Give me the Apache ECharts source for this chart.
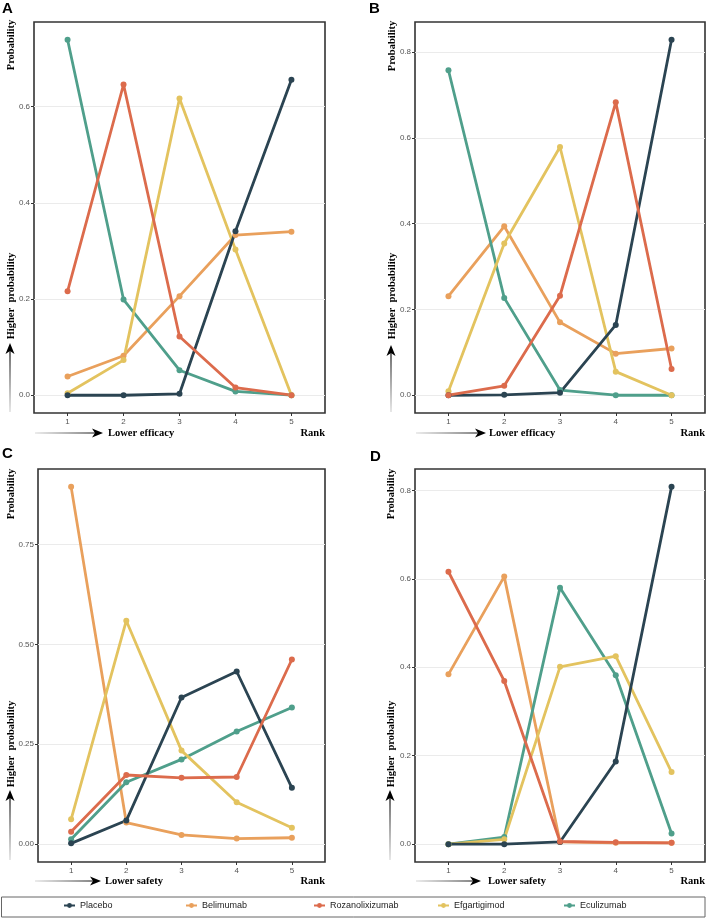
<!DOCTYPE html>
<html><head><meta charset="utf-8">
<script src="https://cdn.jsdelivr.net/npm/echarts@6/dist/echarts.min.js"></script>
<style>html,body{margin:0;padding:0;background:#fff}#c{width:708px;height:919px}</style>
</head><body><div id="c"></div><script>
// ---- data ----
const ranks = [1, 2, 3, 4, 5];
const treatments = ['Placebo', 'Belimumab', 'Rozanolixizumab', 'Efgartigimod', 'Eculizumab'];

// Panel A (efficacy)
const A_Placebo         = [0.000, 0.000, 0.003, 0.341, 0.656];
const A_Belimumab       = [0.039, 0.082, 0.206, 0.333, 0.340];
const A_Rozanolixizumab = [0.216, 0.646, 0.122, 0.016, 0.000];
const A_Efgartigimod    = [0.004, 0.073, 0.617, 0.303, 0.000];
const A_Eculizumab      = [0.739, 0.199, 0.052, 0.008, 0.000];
// Panel B (efficacy)
const B_Placebo         = [0.000, 0.001, 0.006, 0.164, 0.829];
const B_Belimumab       = [0.231, 0.394, 0.170, 0.097, 0.109];
const B_Rozanolixizumab = [0.000, 0.022, 0.232, 0.683, 0.061];
const B_Efgartigimod    = [0.009, 0.354, 0.579, 0.055, 0.000];
const B_Eculizumab      = [0.758, 0.227, 0.012, 0.000, 0.000];
// Panel C (safety)
const C_Placebo         = [0.002, 0.059, 0.367, 0.432, 0.141];
const C_Belimumab       = [0.894, 0.054, 0.023, 0.014, 0.016];
const C_Rozanolixizumab = [0.031, 0.173, 0.166, 0.168, 0.462];
const C_Efgartigimod    = [0.062, 0.559, 0.234, 0.105, 0.041];
const C_Eculizumab      = [0.012, 0.155, 0.212, 0.282, 0.342];
// Panel D (safety)
const D_Placebo         = [0.000, 0.000, 0.005, 0.187, 0.808];
const D_Belimumab       = [0.384, 0.605, 0.005, 0.003, 0.003];
const D_Rozanolixizumab = [0.616, 0.369, 0.006, 0.004, 0.003];
const D_Efgartigimod    = [0.000, 0.011, 0.401, 0.425, 0.163];
const D_Eculizumab      = [0.000, 0.016, 0.580, 0.382, 0.024];

// tick labels
const xTicks  = [1, 2, 3, 4, 5];
const yTicksA = [0, 0.2, 0.4, 0.6];
const yTicksB = [0, 0.2, 0.4, 0.6, 0.8];
const yTicksC = [0, 0.25, 0.5, 0.75];
const yTicksD = [0, 0.2, 0.4, 0.6, 0.8];

// ---- styling ----
const colors = {
  Placebo: '#2b4452', Belimumab: '#e9a05c', Rozanolixizumab: '#dc6b4c',
  Efgartigimod: '#e3c35f', Eculizumab: '#4f9f8b'
};
const drawOrder = ['Belimumab', 'Eculizumab', 'Efgartigimod', 'Placebo', 'Rozanolixizumab'];

const panels = [
  { key: 'A', data: {Placebo: A_Placebo, Belimumab: A_Belimumab, Rozanolixizumab: A_Rozanolixizumab, Efgartigimod: A_Efgartigimod, Eculizumab: A_Eculizumab},
    ticks: yTicksA, dec: 1, grid: {left: 34, top: 22, width: 291, height: 391} },
  { key: 'B', data: {Placebo: B_Placebo, Belimumab: B_Belimumab, Rozanolixizumab: B_Rozanolixizumab, Efgartigimod: B_Efgartigimod, Eculizumab: B_Eculizumab},
    ticks: yTicksB, dec: 1, grid: {left: 415, top: 22, width: 290, height: 391} },
  { key: 'C', data: {Placebo: C_Placebo, Belimumab: C_Belimumab, Rozanolixizumab: C_Rozanolixizumab, Efgartigimod: C_Efgartigimod, Eculizumab: C_Eculizumab},
    ticks: yTicksC, dec: 2, grid: {left: 38, top: 469, width: 287, height: 393} },
  { key: 'D', data: {Placebo: D_Placebo, Belimumab: D_Belimumab, Rozanolixizumab: D_Rozanolixizumab, Efgartigimod: D_Efgartigimod, Eculizumab: D_Eculizumab},
    ticks: yTicksD, dec: 1, grid: {left: 415, top: 469, width: 290, height: 393} }
];

const grids = [], xAxes = [], yAxes = [], series = [];
panels.forEach((p, i) => {
  grids.push(Object.assign({show: true, borderColor: '#333', borderWidth: 1.6, backgroundColor: '#fff'}, p.grid));
  let mx = 0;
  treatments.forEach(t => p.data[t].forEach(v => { if (v > mx) mx = v; }));
  xAxes.push({
    type: 'value', gridIndex: i, min: 0.4, max: 5.6,
    axisLine: {show: false, onZero: false}, splitLine: {show: false},
    axisTick: {show: true, customValues: xTicks, length: 3, lineStyle: {color: '#333', width: 1}},
    axisLabel: {customValues: xTicks, color: '#555', fontSize: 8, margin: 5, fontFamily: 'Liberation Sans, Arial'}
  });
  yAxes.push({
    type: 'value', gridIndex: i, min: -mx * 0.05, max: mx * 1.05,
    axisLine: {show: false, onZero: false},
    splitLine: {show: true, lineStyle: {color: '#ebebeb', width: 1}},
    axisTick: {show: true, customValues: p.ticks, length: 3, lineStyle: {color: '#333', width: 1}},
    axisLabel: {customValues: p.ticks, color: '#555', fontSize: 8, margin: 4, fontFamily: 'Liberation Sans, Arial',
      formatter: v => Number(v).toFixed(p.dec)}
  });
  drawOrder.forEach(t => {
    series.push({
      name: t, type: 'line', xAxisIndex: i, yAxisIndex: i,
      data: ranks.map((r, k) => [r, p.data[t][k]]),
      symbol: 'circle', symbolSize: 6, showSymbol: true,
      lineStyle: {width: 2.8, color: colors[t]}, itemStyle: {color: colors[t]},
      emphasis: {disabled: true}, silent: true
    });
  });
});

// ---- annotations ----
const serif = 'bold 10.5px "Liberation Serif", "Times New Roman", serif';
const graphic = [];
function txt(x, y, text, font, align, rot) {
  graphic.push({type: 'text', x: x, y: y, rotation: rot || 0, silent: true,
    style: {text: text, font: font, fill: '#000', align: align || 'left', verticalAlign: 'middle',
      textAlign: align || 'left', textVerticalAlign: 'middle'}});
}
function hArrow(x0, x1, y) {
  graphic.push({type: 'line', silent: true, shape: {x1: x0, y1: y, x2: x1 - 6, y2: y},
    style: {lineWidth: 1.2, stroke: new echarts.graphic.LinearGradient(0, 0, 1, 0, [{offset: 0, color: '#e0e0e0'}, {offset: 1, color: '#000'}])}});
  graphic.push({type: 'polygon', silent: true,
    shape: {points: [[x1 - 11, y - 4.5], [x1, y], [x1 - 11, y + 4.5], [x1 - 8, y]]}, style: {fill: '#000'}});
}
function vArrow(x, y0, y1) {
  graphic.push({type: 'line', silent: true, shape: {x1: x, y1: y0, x2: x, y2: y1 + 6},
    style: {lineWidth: 1.2, stroke: new echarts.graphic.LinearGradient(0, 1, 0, 0, [{offset: 0, color: '#e0e0e0'}, {offset: 1, color: '#000'}])}});
  graphic.push({type: 'polygon', silent: true,
    shape: {points: [[x - 4.5, y1 + 11], [x, y1], [x + 4.5, y1 + 11], [x, y1 + 8]]}, style: {fill: '#000'}});
}
const letterFont = 'bold 15px "Liberation Sans", Arial, sans-serif';
txt(2, 9, 'A', letterFont);
txt(369, 9, 'B', letterFont);
txt(2, 454, 'C', letterFont);
txt(370, 457, 'D', letterFont);

// rotated y titles
[[11, 45, 296, 412, 343], [392, 46, 296, 412, 345], [11, 494, 744, 860, 790], [391, 494, 744, 860, 790]].forEach(a => {
  txt(a[0], a[1], 'Probability', serif, 'center', Math.PI / 2);
  txt(a[0], a[2], 'Higher  probability', serif, 'center', Math.PI / 2);
  vArrow(a[0] - 1, a[3], a[4]);
});
// bottom titles
hArrow(35, 103, 433); txt(108, 433, 'Lower efficacy', serif); txt(325, 433, 'Rank', serif, 'right');
hArrow(416, 486, 433); txt(489, 433, 'Lower efficacy', serif); txt(705, 433, 'Rank', serif, 'right');
hArrow(35, 101, 881); txt(105, 881, 'Lower safety', serif); txt(325, 881, 'Rank', serif, 'right');
hArrow(416, 481, 881); txt(488, 881, 'Lower safety', serif); txt(705, 881, 'Rank', serif, 'right');

// legend box
graphic.push({type: 'rect', silent: true, z: -1, shape: {x: 1.5, y: 897, width: 703.5, height: 20},
  style: {fill: '#fff', stroke: '#666', lineWidth: 1}});

const legendX = {Placebo: 63, Belimumab: 185, Rozanolixizumab: 313, Efgartigimod: 437, Eculizumab: 563};
const legends = treatments.map(t => ({
  data: [t], left: legendX[t], top: 901, padding: 0, itemWidth: 11, itemHeight: 6, itemGap: 0,
  selectedMode: false, textStyle: {fontSize: 9, color: '#222', fontFamily: 'Liberation Sans, Arial'}
}));

const chart = echarts.init(document.getElementById('c'), null, {renderer: 'canvas'});
chart.setOption({
  animation: false, backgroundColor: '#fff',
  grid: grids, xAxis: xAxes, yAxis: yAxes, series: series,
  legend: legends, graphic: {elements: graphic}
});
</script></body></html>
